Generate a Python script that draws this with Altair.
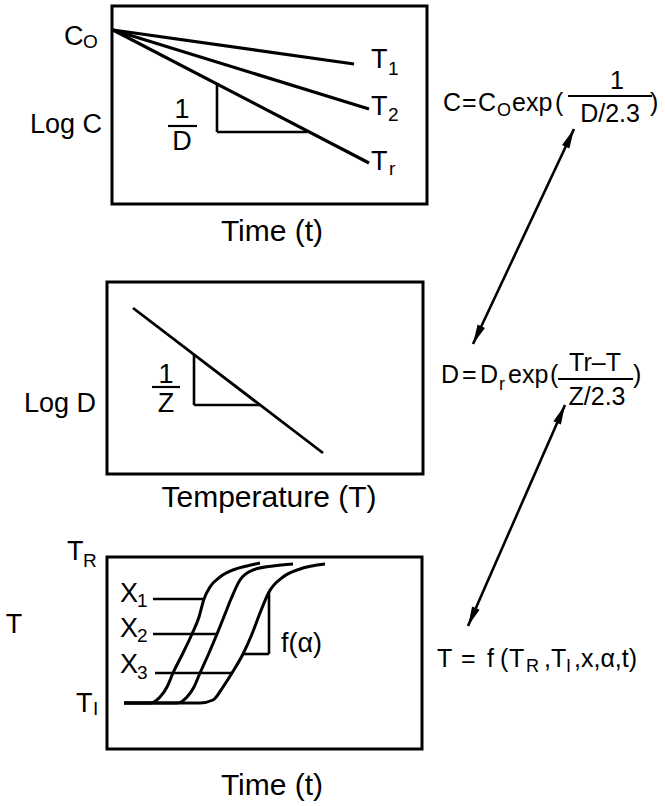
import math
import altair as alt
import pandas as pd

W, H = 665, 806
FONT = "Liberation Sans"
BIG, AXT, SUB, EQ, EQSUB = 27, 30, 19, 25, 18

# ---- panel frames (left, top, right, bottom) ----
frame_x = [112, 107, 107]
frame_y = [6, 282, 557]
frame_x2 = [427, 423, 422]
frame_y2 = [204, 474, 749]

# ---- panel 1: log C against time for three temperatures ----
decay_x = [113, 113, 113]
decay_y = [30, 30, 30]
decay_x2 = [354, 369, 369]
decay_y2 = [64, 109, 163]
# slope triangle 1/D on the T_r line
slope_d_x = [217, 217]
slope_d_y = [84, 132]
slope_d_x2 = [217, 307]
slope_d_y2 = [132, 132]

# ---- panel 2: log D against temperature ----
dline_x, dline_y, dline_x2, dline_y2 = [133], [308], [323], [453]
slope_z_x = [194, 194]
slope_z_y = [355, 405]
slope_z_x2 = [194, 260]
slope_z_y2 = [405, 405]

# ---- panel 3: temperature histories for positions x1, x2, x3 ----
curve_ids = ["X1", "X2", "X3"]
curve_x = [
    [124, 150, 160, 167, 173, 183, 192, 199, 204, 210, 220, 233, 247, 260],
    [124, 177, 187, 194, 200, 209, 217, 225, 231, 240, 253, 273, 293],
    [124, 200, 213, 223, 232, 243, 252, 260, 269, 283, 300, 325],
]
curve_y = [
    [703, 703, 697, 687, 673, 653, 634, 617, 599, 587, 577, 570, 566, 563],
    [703, 703, 697, 687, 673, 653, 634, 614, 599, 580, 570, 566, 564],
    [703, 703, 700, 687, 673, 654, 634, 613, 592, 577, 569, 564],
]
leader_x = [153, 153, 155]
leader_x2 = [204, 217, 232]
leader_y = [599, 634, 673]
slope_a_x = [269, 243]
slope_a_y = [592, 654]
slope_a_x2 = [269, 269]
slope_a_y2 = [654, 654]

# ---- fraction bars ----
bar_x = [168, 152, 568, 558]
bar_x2 = [197, 180, 652, 633]
bar_y = [126, 387, 96, 379]

# ---- double-headed arrows linking the equations ----
arrow_tail_x = [473, 468]
arrow_tail_y = [344, 626]
arrow_head_x = [574, 565]
arrow_head_y = [129, 405]

# ---- text: (label, x, baseline y, size) ----
left_texts = [
    ("C", 64, 45, BIG), ("O", 83, 48, SUB),
    ("T", 371, 68, BIG), ("1", 388, 75, SUB),
    ("T", 371, 115, BIG), ("2", 388, 121, SUB),
    ("T", 371, 170, BIG), ("r", 389, 175, SUB),
    ("T", 67, 560, BIG), ("R", 83, 567, SUB),
    ("T", 76, 712, BIG), ("I", 93, 715, SUB),
    ("X", 120, 602, BIG), ("1", 137, 607, SUB),
    ("X", 120, 637, BIG), ("2", 137, 642, SUB),
    ("X", 120, 673, BIG), ("3", 137, 679, SUB),
    ("f(α)", 281, 652, BIG),
    # C = C_O exp (1 / (D/2.3))
    ("C", 443, 111, EQ), ("=", 462, 111, EQ), ("C", 478, 111, EQ),
    ("O", 497, 116, EQSUB), ("exp", 512, 111, EQ),
    ("(", 555, 111, EQ), (")", 650, 111, EQ),
    # D = D_r exp ((Tr-T) / (Z/2.3))
    ("D", 441, 383, EQ), ("=", 462, 383, EQ), ("D", 480, 383, EQ),
    ("r", 499, 390, EQSUB), ("exp", 508, 383, EQ),
    ("(", 550, 383, EQ), (")", 633, 383, EQ),
    # T = f (T_R, T_I, x, alpha, t)
    ("T", 437, 667, EQ), ("=", 461, 667, EQ), ("f", 487, 667, EQ),
    ("(", 500, 667, EQ), ("T", 509, 667, EQ), ("R", 526, 672, EQSUB),
    (",T", 544, 667, EQ), ("I", 566, 672, EQSUB), (",x,α,t)", 574, 667, EQ),
]
center_texts = [
    ("Log C", 66, 133, BIG), ("Time (t)", 272, 241, AXT),
    ("1", 182, 118, BIG), ("D", 182, 150, BIG),
    ("Log D", 60, 412, BIG), ("Temperature (T)", 269, 507, AXT),
    ("1", 166, 383, BIG), ("Z", 166, 412, BIG),
    ("T", 14, 633, BIG), ("Time (t)", 272, 795, AXT),
    ("1", 617, 89, EQ), ("D/2.3", 610, 122, EQ),
    ("Tr–T", 595, 371, EQ), ("Z/2.3", 597, 405, EQ),
]

xs = alt.Scale(domain=[0, W], range=[0, W])
ys = alt.Scale(domain=[0, H], range=[0, H])


def X(f):
    return alt.X(f, type="quantitative", scale=xs, axis=None)


def Y(f):
    return alt.Y(f, type="quantitative", scale=ys, axis=None)


def segs(x, y, x2, y2, w):
    return pd.DataFrame({"x": x, "y": y, "x2": x2, "y2": y2, "w": [w] * len(x)})


seg_df = pd.concat([
    segs(decay_x, decay_y, decay_x2, decay_y2, 3.2),
    segs(slope_d_x, slope_d_y, slope_d_x2, slope_d_y2, 2.6),
    segs(dline_x, dline_y, dline_x2, dline_y2, 2.8),
    segs(slope_z_x, slope_z_y, slope_z_x2, slope_z_y2, 2.6),
    segs(leader_x, leader_y, leader_x2, leader_y, 2.6),
    segs(slope_a_x, slope_a_y, slope_a_x2, slope_a_y2, 2.6),
    segs(bar_x, bar_y, bar_x2, bar_y, 2.2),
    segs(arrow_tail_x, arrow_tail_y, arrow_head_x, arrow_head_y, 2.6),
], ignore_index=True)

frame_df = pd.DataFrame({"x": frame_x, "y": frame_y, "x2": frame_x2, "y2": frame_y2})

curve_rows = []
for cid, cx, cy in zip(curve_ids, curve_x, curve_y):
    for i, (a, b) in enumerate(zip(cx, cy)):
        curve_rows.append({"id": cid, "i": i, "x": a, "y": b})
curve_df = pd.DataFrame(curve_rows)

# arrowheads at both ends of each shaft, rotated to the shaft direction
head_rows = []
for tx, ty, hx, hy in zip(arrow_tail_x, arrow_tail_y, arrow_head_x, arrow_head_y):
    ang = math.degrees(math.atan2(hx - tx, -(hy - ty))) % 360
    head_rows.append({"x": hx, "y": hy, "a": ang})
    head_rows.append({"x": tx, "y": ty, "a": (ang + 180) % 360})
head_df = pd.DataFrame(head_rows)

left_df = pd.DataFrame(left_texts, columns=["t", "x", "y", "s"])
center_df = pd.DataFrame(center_texts, columns=["t", "x", "y", "s"])

frames = alt.Chart(frame_df).mark_rect(
    fillOpacity=0, stroke="black", strokeWidth=3
).encode(x=X("x"), x2="x2", y=Y("y"), y2="y2")

rules = alt.Chart(seg_df).mark_rule(color="black").encode(
    x=X("x"), y=Y("y"), x2="x2", y2="y2",
    strokeWidth=alt.StrokeWidth("w:Q", scale=None),
)

curves = alt.Chart(curve_df).mark_line(
    color="black", strokeWidth=3, interpolate="monotone"
).encode(x=X("x"), y=Y("y"), detail="id:N", order="i:Q")

heads = alt.Chart(head_df).mark_point(
    shape="M0,0L-0.42,2L0.42,2Z", filled=True, color="black", opacity=1, size=380
).encode(x=X("x"), y=Y("y"), angle=alt.Angle("a:Q", scale=None))

left_txt = alt.Chart(left_df).mark_text(
    font=FONT, align="left", baseline="alphabetic", color="black"
).encode(x=X("x"), y=Y("y"), text="t:N", size=alt.Size("s:Q", scale=None))

center_txt = alt.Chart(center_df).mark_text(
    font=FONT, align="center", baseline="alphabetic", color="black"
).encode(x=X("x"), y=Y("y"), text="t:N", size=alt.Size("s:Q", scale=None))

chart = alt.layer(frames, rules, curves, heads, left_txt, center_txt).properties(
    width=W, height=H, padding=0, autosize="none", background="white"
).configure_view(stroke=None)

chart.save("out.html", embed_options={"renderer": "svg", "actions": False})
